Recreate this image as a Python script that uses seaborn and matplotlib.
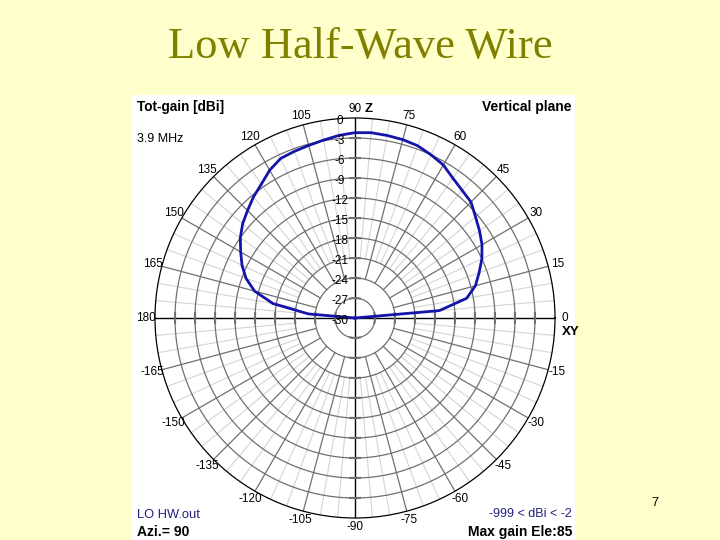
import numpy as np
import pandas as pd
import matplotlib
matplotlib.use("Agg")
import matplotlib.pyplot as plt
import matplotlib.transforms as mtransforms
from matplotlib.patches import Rectangle
import seaborn as sns

# elevation pattern of the low half-wave wire, vertical plane (Azi = 90)
elevation_deg = [0, 5, 10, 15, 20, 25, 30, 35, 40, 45, 50, 55, 60, 65, 70, 75, 80, 85, 90,
                 95, 100, 105, 110, 115, 120, 125, 130, 135, 140, 145, 150, 155, 160, 165,
                 170, 175, 180]
gain_dbi = [-999, -17.3, -13.0, -11.3, -10.2, -9.0, -8.0, -7.2, -6.4, -5.4, -5.0, -4.4,
            -3.5, -3.0, -2.5, -2.3, -2.2, -2.1, -2.2,
            -2.5, -2.9, -3.2, -3.4, -3.6, -4.4, -5.5, -6.3, -7.2, -8.0, -9.0, -10.2,
            -11.3, -12.6, -14.4, -17.5, -23.0, -999]

ring_levels = [0, -3, -6, -9, -12, -15, -18, -21, -24, -27, -30]
angle_labels = [0, 15, 30, 45, 60, 75, 90, 105, 120, 135, 150, 165, 180,
                -165, -150, -135, -120, -105, -90, -75, -60, -45, -30, -15]

R_MIN, R_MAX = -30, 0
BG = "#FFFFCC"
GRID_DARK = "#707070"
GRID_LIGHT = "#d4d4d4"
TRACE = "#1414aa"

plt.rcParams["font.family"] = ["Liberation Sans", "DejaVu Sans"]

df = pd.DataFrame({"theta": np.deg2rad(elevation_deg),
                   "gain": np.clip(gain_dbi, R_MIN, None)})

fig = plt.figure(figsize=(7.2, 5.4), dpi=100, facecolor=BG)
W, H = 720, 540

# white plot panel
fig.patches.append(Rectangle((132 / W, 0), (575 - 132) / W, (540 - 95) / H,
                             transform=fig.transFigure, facecolor="white",
                             edgecolor="none", zorder=-5))

ax = fig.add_axes([155 / W, 22 / H, 400 / W, 400 / H], projection="polar")
ax.set_zorder(2)
ax.set_facecolor("white")
ax.set_ylim(R_MIN, R_MAX)
ax.set_xticks([])
ax.set_yticks([])
ax.grid(False)
ax.spines["polar"].set_color("black")
ax.spines["polar"].set_linewidth(0.9)

full = np.linspace(0, 2 * np.pi, 721)
# rings every 3 dB
for g in ring_levels[1:-1]:
    ax.plot(full, np.full_like(full, g), color=GRID_DARK, lw=0.9, zorder=1)

# minor spokes every 5 deg, major every 15 deg
for a in range(0, 360, 5):
    if a % 90 == 0:
        continue
    if a % 15 == 0:
        ax.plot([np.deg2rad(a)] * 2, [-24, 0], color=GRID_DARK, lw=0.9, zorder=1)
    else:
        ax.plot([np.deg2rad(a)] * 2, [-21, 0], color=GRID_LIGHT, lw=0.8, zorder=0.5)

# main axes through centre
for a in (0, 90):
    ax.plot([np.deg2rad(a), np.deg2rad(a + 180)], [0, 0], color="black", lw=1.0, zorder=2)

# thick ring marks on the axes
for g in ring_levels[1:-1]:
    rpx = 200 * (g - R_MIN) / (R_MAX - R_MIN)
    dth = 6.0 / rpx
    for a in (0, 90, 180, 270):
        t = np.deg2rad(a)
        ax.plot(np.linspace(t - dth, t + dth, 5), [g] * 5, color=GRID_DARK, lw=1.5,
                zorder=2, solid_capstyle="butt")

# radiation pattern
sns.lineplot(data=df, x="theta", y="gain", sort=False, estimator=None, ax=ax,
             color=TRACE, lw=2.0, zorder=4)
ax.set_xlabel("")
ax.set_ylabel("")

# dB labels along the vertical axis
lab_tr = mtransforms.offset_copy(ax.transData, fig=fig, x=-15, y=-3, units="dots")
for g in ring_levels:
    ax.text(np.pi / 2, g, f"{g}", transform=lab_tr, ha="center", va="center",
            fontsize=8.5, color="black", zorder=5)

# angle labels around the rim
for a in angle_labels:
    ax.text(np.deg2rad(a), 1.4, f"{a}", ha="center", va="center", fontsize=8.5)
z_tr = mtransforms.offset_copy(ax.transData, fig=fig, x=14, y=0, units="dots")
ax.text(np.pi / 2, 1.4, "Z", transform=z_tr, ha="center", va="center",
        fontsize=9.5, fontweight="bold")
xy_tr = mtransforms.offset_copy(ax.transData, fig=fig, x=6, y=-14, units="dots")
ax.text(0, 1.4, "XY", transform=xy_tr, ha="center", va="center",
        fontsize=9.5, fontweight="bold")

# panel annotations
def ftext(x, y, s, **kw):
    fig.text(x / W, 1 - y / H, s, va="center", **kw)

ftext(137, 107, "Tot-gain [dBi]", ha="left", fontsize=9.8, fontweight="bold")
ftext(137, 139, "3.9 MHz", ha="left", fontsize=9)
ftext(572, 107, "Vertical plane", ha="right", fontsize=10, fontweight="bold")
ftext(137, 515, "LO HW.out", ha="left", fontsize=9.3, color="#202080")
ftext(137, 532, "Azi.= 90", ha="left", fontsize=10, fontweight="bold")
ftext(572, 514, "-999 < dBi < -2", ha="right", fontsize=9, color="#202080")
ftext(572, 532, "Max gain Ele:85", ha="right", fontsize=10, fontweight="bold")
ftext(655, 503, "7", ha="center", fontsize=9)

ftext(360, 47, "Low Half-Wave Wire", ha="center", fontsize=32, color="#808000",
      family=["Liberation Serif", "DejaVu Serif"])

fig.savefig("out.png", dpi=100, facecolor=BG)
